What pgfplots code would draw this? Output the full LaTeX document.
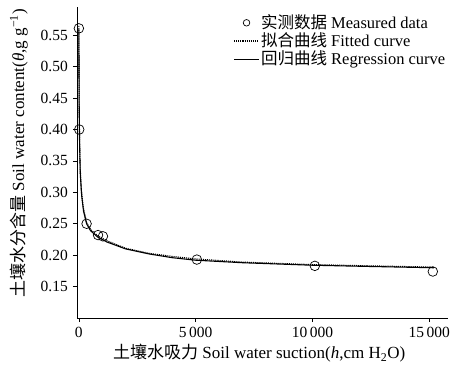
\documentclass[border=0pt]{standalone}
\usepackage{pgfplots}
\pgfplotsset{compat=1.18}
\usepackage{fontspec}
\setmainfont{Liberation Serif}
\newfontfamily\cjk{Noto Sans CJK SC}
\begin{document}
\fontsize{15}{18}\selectfont
\begin{tikzpicture}
\useasboundingbox (-77pt,-47pt) rectangle (380pt,318pt);
\begin{axis}[
  at={(0pt,0pt)}, anchor=south west,
  scale only axis, width=371pt, height=311pt,
  xmin=-80, xmax=15800, ymin=0.10, ymax=0.595,
  axis x line*=bottom, axis y line*=left,
  axis line style={-, line width=0.8pt},
  scaled x ticks=false,
  xtick={0,5000,10000,15000},
  xticklabels={0,5\,000,10\,000,15\,000},
  ytick={0.15,0.20,0.25,0.30,0.35,0.40,0.45,0.50,0.55},
  yticklabel style={/pgf/number format/.cd,fixed,fixed zerofill,precision=2},
  /pgf/number format/assume math mode=true,
  tick style={black, line width=0.6pt}, major tick length=4pt,
  tick align=outside,
  ticklabel style={font=\fontsize{15.5}{18}\selectfont},
  xlabel={{\cjk 土壤水吸力} Soil water suction(\textit{h},cm H\textsubscript{2}O)},
  ylabel={{\cjk 土壤水分含量} Soil water content(\textit{θ},g g\textsuperscript{−1})},
  label style={font=\fontsize{17}{20}\selectfont},
  xlabel style={at={(axis description cs:0.491,0)}, anchor=center, yshift=-35pt},
  ylabel style={at={(axis description cs:-0.157,0.53)}, anchor=center},
  legend style={at={(axis description cs:1,1)}, anchor=north east, xshift=0pt, yshift=-5pt,
    draw=none, fill=none,
    font=\fontsize{16.5}{19}\selectfont, row sep=-1pt, inner sep=1pt,
    nodes={inner sep=1.5pt}},
  legend cell align=left,
  legend image code/.code={\draw[#1] (0pt,0pt) -- (25pt,0pt);},
]
\addplot[only marks, mark=o, mark size=4.8pt, line width=0.7pt,
  legend image code/.code={\draw[mark=o, mark size=3.3pt, line width=0.7pt] plot coordinates {(12.5pt,0pt)};}]
  coordinates {(0,0.561) (15,0.40) (330,0.250) (820,0.232) (1030,0.230) (5050,0.193) (10100,0.183) (15150,0.174)};
\addlegendentry{{\cjk 实测数据} Measured data}
\addplot[densely dotted, line width=1.1pt, black] coordinates {
 (0,0.565) (4,0.51) (12,0.45) (25,0.40) (50,0.345) (100,0.305) (180,0.278) (330,0.252) (500,0.241) (800,0.231) (1200,0.223) (2000,0.211) (3000,0.203) (4000,0.198) (5000,0.194) (7000,0.189) (10000,0.185) (12500,0.183) (15200,0.181)};
\addlegendentry{{\cjk 拟合曲线} Fitted curve}
\addplot[solid, line width=1.1pt, black] coordinates {
 (0,0.56) (5,0.50) (15,0.43) (30,0.38) (60,0.33) (120,0.295) (200,0.27) (330,0.25) (500,0.239) (800,0.229) (1200,0.221) (2000,0.210) (3000,0.202) (4000,0.196) (5000,0.192) (7000,0.188) (10000,0.184) (12500,0.182) (15200,0.180)};
\addlegendentry{{\cjk 回归曲线} Regression curve}
\end{axis}
\end{tikzpicture}
\end{document}
